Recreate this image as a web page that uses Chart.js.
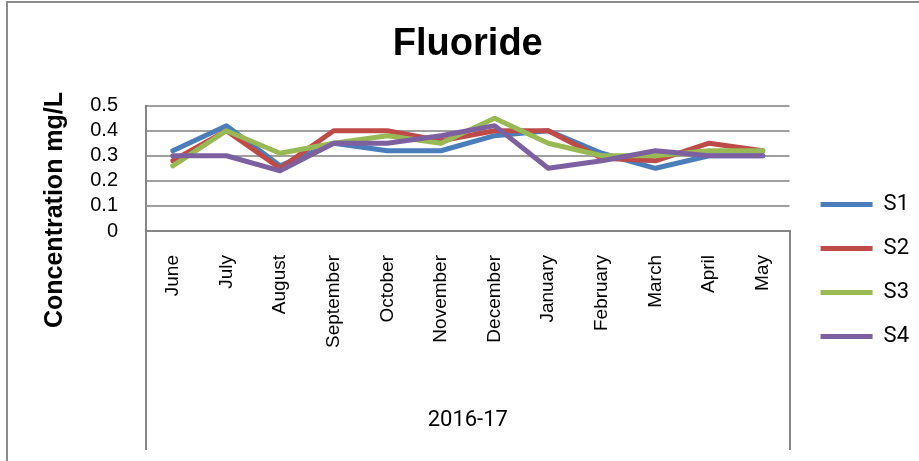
<!DOCTYPE html>
<html>
<head>
<meta charset="utf-8">
<script src="https://cdn.jsdelivr.net/npm/chart.js@4.4.1/dist/chart.umd.min.js"></script>
<style>
  html, body { margin: 0; padding: 0; background: #fff; }
  #wrap { position: relative; width: 919px; height: 461px; overflow: hidden; }
  #frame { position: absolute; left: 6px; top: 1px; width: 1000px; height: 1000px;
           border-left: 2px solid #8c8c8c; border-top: 2px solid #8c8c8c; pointer-events: none; }
</style>
</head>
<body>
<div id="wrap">
  <canvas id="c" width="919" height="461"></canvas>
  <div id="frame"></div>
</div>
<script>
const chartTitle = 'Fluoride';
const yAxisTitle = 'Concentration mg/L';
const xGroupLabel = '2016-17';
const months = ['June', 'July', 'August', 'September', 'October', 'November',
                'December', 'January', 'February', 'March', 'April', 'May'];
const yTickLabels = ['0', '0.1', '0.2', '0.3', '0.4', '0.5'];
const seriesNames = ['S1', 'S2', 'S3', 'S4'];
const s1 = [0.32, 0.42, 0.26, 0.35, 0.32, 0.32, 0.38, 0.40, 0.31, 0.25, 0.30, 0.30];
const s2 = [0.28, 0.40, 0.25, 0.40, 0.40, 0.36, 0.40, 0.40, 0.29, 0.28, 0.35, 0.32];
const s3 = [0.26, 0.40, 0.31, 0.35, 0.38, 0.35, 0.45, 0.35, 0.30, 0.30, 0.32, 0.32];
const s4 = [0.30, 0.30, 0.24, 0.35, 0.35, 0.38, 0.42, 0.25, 0.28, 0.32, 0.30, 0.30];
const seriesColors = ['#4a7ebb', '#be4b48', '#98b954', '#7d60a0'];

const GRID = '#a0a0a0';
const AXIS = '#868686';
const seriesValues = [s1, s2, s3, s4];

const datasets = seriesValues.map((vals, i) => ({
  label: seriesNames[i],
  data: vals,
  borderColor: seriesColors[i],
  backgroundColor: seriesColors[i],
  borderWidth: 5,
  pointRadius: 0,
  tension: 0,
  fill: false,
  borderJoinStyle: 'round',
  borderCapStyle: 'round',
  order: seriesValues.length - i
}));

new Chart(document.getElementById('c'), {
  type: 'line',
  data: { labels: months, datasets },
  options: {
    responsive: false,
    animation: false,
    devicePixelRatio: 1,
    layout: { padding: { left: 0, right: 0, top: 0, bottom: 0 } },
    plugins: {
      tooltip: { enabled: false },
      title: {
        display: true,
        text: chartTitle,
        fullSize: false,
        color: '#000',
        font: { family: 'Liberation Sans', size: 38, weight: 'bold' },
        padding: { top: 22, bottom: 38 }
      },
      legend: {
        display: true,
        position: 'right',
        align: 'center',
        title: { display: true, text: ' ', font: { size: 10 }, padding: { top: 68, bottom: 0 } },
        labels: {
          usePointStyle: true,
          pointStyle: 'line',
          pointStyleWidth: 52,
          padding: 22,
          color: '#000',
          font: { family: 'Roboto', size: 22 },
          sort: (a, b) => a.datasetIndex - b.datasetIndex
        }
      }
    },
    scales: {
      x: {
        type: 'category',
        offset: true,
        grid: {
          offset: true,
          drawOnChartArea: false,
          drawTicks: true,
          tickLength: 219,
          lineWidth: 2,
          color: (c) => (c.type !== 'tick' || c.index === 0) ? AXIS : 'rgba(0,0,0,0)'
        },
        border: { display: true, color: AXIS, width: 2 },
        ticks: {
          autoSkip: false,
          minRotation: 90,
          maxRotation: 90,
          padding: -195,
          color: '#000',
          font: { family: 'Liberation Sans', size: 19 }
        },
        title: {
          display: true,
          text: xGroupLabel,
          color: '#000',
          font: { family: 'Roboto', size: 22 },
          padding: { top: 0, bottom: 27 }
        },
        afterFit: (s) => { s.height = 230; }
      },
      y: {
        min: 0,
        max: 0.5,
        ticks: {
          stepSize: 0.1,
          autoSkip: false,
          padding: 28,
          color: '#000',
          font: { family: 'Liberation Sans', size: 20 },
          callback: (v) => yTickLabels[Math.round(v * 10)]
        },
        grid: { color: GRID, lineWidth: 2, drawTicks: false },
        border: { display: true, color: AXIS, width: 2 },
        title: {
          display: true,
          text: yAxisTitle + '\u00A0'.repeat(12),
          color: '#000',
          font: { family: 'Liberation Sans', size: 25, weight: 'bold' },
          padding: { top: 40, bottom: 0 }
        },
        afterFit: (s) => { s.width = 146; }
      },
      gap: {
        type: 'linear',
        position: 'right',
        display: true,
        ticks: { display: false },
        grid: { display: false, drawTicks: false },
        border: { display: false },
        afterFit: (s) => { s.width = 9; }
      }
    }
  }
});
</script>
</body>
</html>
